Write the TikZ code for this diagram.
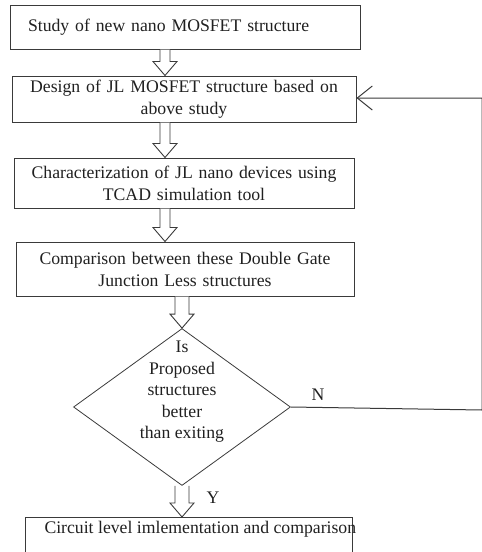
\documentclass[tikz,border=0pt]{standalone}
\usepackage{fontspec}
\setmainfont{Liberation Serif}
\usepackage{tikz}
\usetikzlibrary{arrows.meta,calc,positioning,shapes.geometric}
\definecolor{lineink}{HTML}{3A3A3A}
\definecolor{textink}{HTML}{202020}
\tikzset{
  stepbox/.style={draw=lineink,line width=1pt,align=center,inner xsep=4pt,inner ysep=3pt,font=\fontsize{17.7}{22}\selectfont,text=textink},
  decision/.style={draw=lineink,line width=0.8pt,diamond,inner sep=0pt,minimum width=217pt,minimum height=157pt},
  flowline/.style={draw=lineink,line width=1pt},
  hollowarrow/.style={draw=lineink,line width=0.9pt,fill=white,line join=miter},
  flaglabel/.style={font=\fontsize{17.7}{21.5}\selectfont,text=textink}
}
% hollow block arrow: #1 half shaft width, #2 start, #3 tip
\newcommand{\blockarrow}[3][5]{%
  \draw[hollowarrow] let \p1=(#2), \p2=(#3) in
    (\x1-#1,\y1) -- (\x1-#1,\y2+14) -- (\x1-12,\y2+14) -- (\x2,\y2)
    -- (\x1+12,\y2+14) -- (\x1+#1,\y2+14) -- (\x1+#1,\y1);}

\begin{document}
\begin{tikzpicture}[x=1pt,y=-1pt]
  \useasboundingbox (0,0) rectangle (482,552);
  \clip (0,0) rectangle (482,552);
  \coordinate (axis) at (165,0);
  \node[stepbox,align=left,text width=314pt,inner xsep=18pt,minimum height=44pt] (study) at (185,27) {Study of new nano MOSFET structure};
  \node[stepbox,minimum width=344pt,text width=336pt,minimum height=46pt] (design) at (184,99) {Design of JL MOSFET structure based on\\above study};
  \node[stepbox,minimum width=340pt,text width=332pt,minimum height=50pt] (tcad) at (184,183) {Characterization of JL nano devices using\\TCAD simulation tool};
  \node[stepbox,minimum width=338pt,text width=330pt,minimum height=54pt] (compare) at (185,269) {Comparison between these Double Gate\\Junction Less structures};
  \node[decision] (dec) at (182,407) {};
  \node[flaglabel,align=center] (dectext) at (182,392) {Is\\Proposed\\structures\\better\\ than exiting};
  \node[stepbox,anchor=north west,align=left,inner xsep=0pt,inner ysep=4pt,text height=12pt,text depth=32pt] (circuit) at (25,517) {\hspace*{19pt}\makebox[308pt][l]{Circuit level imlementation and comparison}};
  % forward flow
  \blockarrow{study.south -| axis}{design.north -| axis}
  \blockarrow{design.south -| axis}{tcad.north -| axis}
  \blockarrow{tcad.south -| axis}{compare.north -| axis}
  \blockarrow[7]{compare.south -| dec.north}{dec.north}
  \blockarrow[7]{dec.south}{circuit.north -| dec.south}
  % feedback loop
  \coordinate (loopdown) at (482,410);
  \coordinate (loopup) at (482,98);
  \draw[flowline,-{Straight Barb[length=15pt,width=24pt]}] (dec.east) -- (loopdown) -- (loopup) -- (design.east |- loopup);
  \node[flaglabel] (nlabel) at (318,395) {N};
  \node[flaglabel] (ylabel) at (213,498) {Y};
\end{tikzpicture}
\end{document}
